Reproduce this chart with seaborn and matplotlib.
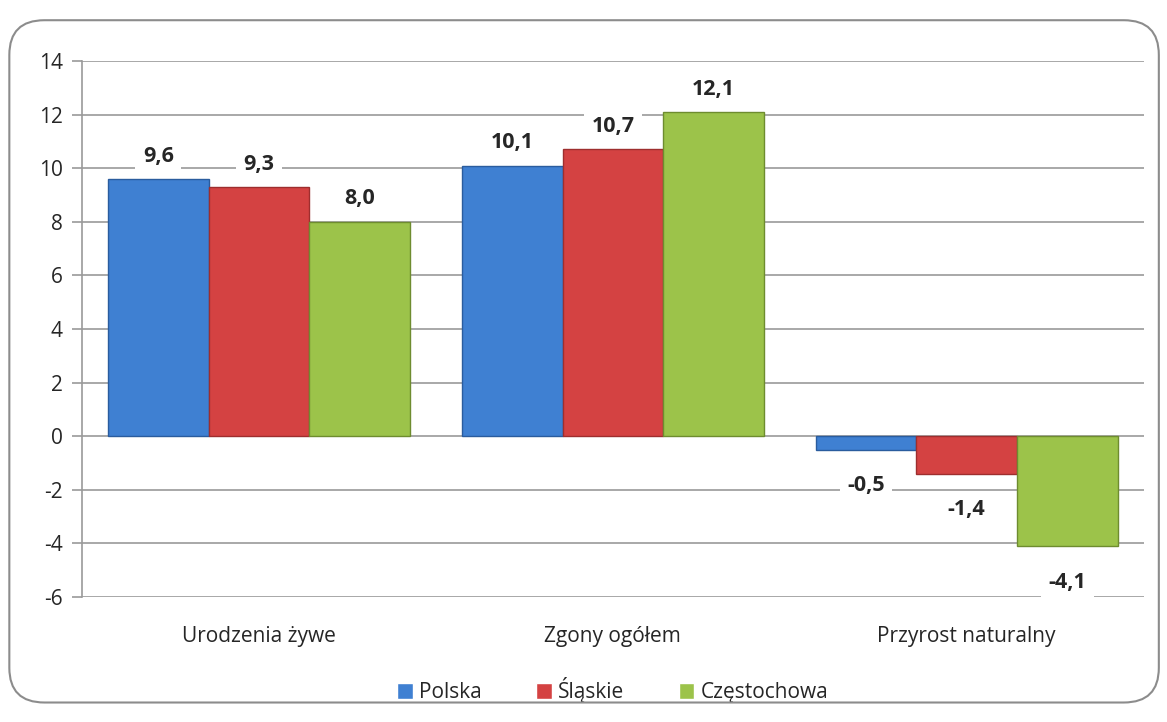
import pandas as pd
import seaborn as sns
import matplotlib.pyplot as plt
from matplotlib.patches import FancyBboxPatch

categories = ["Urodzenia żywe", "Zgony ogółem", "Przyrost naturalny"]
series = ["Polska", "Śląskie", "Częstochowa"]
polska = [9.6, 10.1, -0.5]
slaskie = [9.3, 10.7, -1.4]
czestochowa = [8.0, 12.1, -4.1]
colors = ["#3F80D2", "#D44242", "#9CC34A"]
edges = ["#2A5C9E", "#9E2E2E", "#6E8C2F"]

rows = []
for name, vals in zip(series, [polska, slaskie, czestochowa]):
    for cat, v in zip(categories, vals):
        rows.append({"kategoria": cat, "seria": name, "wartosc": v})
df = pd.DataFrame(rows)

sns.set_theme(style="white")
plt.rcParams["font.family"] = ["Open Sans", "DejaVu Sans"]
plt.rcParams["axes.unicode_minus"] = False

fig = plt.figure(figsize=(11.67, 7.22), dpi=100)
ax = fig.add_axes([0.0703, 0.173, 0.9097, 0.7425])

sns.barplot(data=df, x="kategoria", y="wartosc", hue="seria", order=categories,
            hue_order=series, palette=colors, width=0.853, ax=ax, legend=True,
            saturation=1, errorbar=None, zorder=3)

for cont, ec in zip(ax.containers, edges):
    for bar in cont:
        bar.set_edgecolor(ec)
        bar.set_linewidth(1.0)
    for bar, v in zip(cont, cont.datavalues):
        x = bar.get_x() + bar.get_width() / 2
        off = 16.5 if v >= 0 else -26
        ax.annotate(f"{v:.1f}".replace(".", ","), (x, v), xytext=(0, off),
                    textcoords="offset points", ha="center", va="center",
                    fontsize=15.5, fontweight="bold", zorder=5,
                    bbox=dict(boxstyle="square,pad=0.35", fc="white", ec="none"))

ax.set_ylim(-6, 14)
ax.set_yticks(range(-6, 15, 2))
ax.set_xlim(-0.5, 2.5)
ax.yaxis.grid(True, color="#9A9A9A", linewidth=1.2, zorder=0)
ax.set_axisbelow(True)
ax.set_xlabel("")
ax.set_ylabel("")
ax.tick_params(axis="y", left=True, length=7, width=1.2, color="#9A9A9A",
               labelsize=15, pad=7)
ax.tick_params(axis="x", bottom=False, labelsize=15, pad=15)
for s in ["top", "right", "bottom"]:
    ax.spines[s].set_visible(False)
ax.spines["left"].set_color("#9A9A9A")
ax.spines["left"].set_linewidth(1.2)

handles, labels = ax.get_legend_handles_labels()
ax.legend(handles, labels, loc="center", bbox_to_anchor=(0.5, -0.174),
          ncol=3, frameon=False, fontsize=15, handlelength=0.75,
          handleheight=0.75, handletextpad=0.3, columnspacing=2.6)

frame = FancyBboxPatch((0.008, 0.027), 0.985, 0.945,
                       boxstyle="round,pad=0,rounding_size=0.03",
                       transform=fig.transFigure, fc="none", ec="#8C8C8C",
                       lw=1.5, mutation_aspect=1.6)
fig.patches.append(frame)

fig.savefig("out.png", dpi=100)
